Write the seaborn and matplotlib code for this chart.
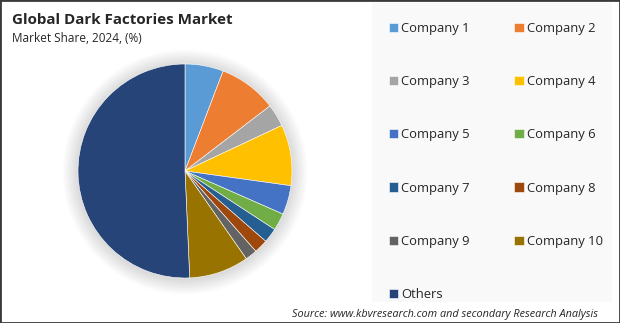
import matplotlib
matplotlib.use("Agg")
import matplotlib.pyplot as plt
from matplotlib.patches import Rectangle, Circle
import seaborn as sns

companies = ["Company 1", "Company 2", "Company 3", "Company 4", "Company 5",
             "Company 6", "Company 7", "Company 8", "Company 9", "Company 10", "Others"]
shares = [5.8, 8.8, 3.4, 9.2, 4.4, 2.6, 2.2, 2.1, 1.8, 9.0, 50.7]
colors = ["#5B9BD5", "#ED7D31", "#A5A5A5", "#FFC000", "#4472C4", "#70AD47",
          "#255E91", "#9E480E", "#636363", "#997300", "#264478"]

title = "Global Dark Factories Market"
subtitle = "Market Share, 2024, (%)"
source = "Source: www.kbvresearch.com and secondary Research Analysis"

sns.set_theme(style="white")
plt.rcParams['font.family'] = ['Open Sans', 'DejaVu Sans']

W, H = 620, 323
fig = plt.figure(figsize=(W / 100, H / 100), dpi=100)
fig.patch.set_facecolor("white")

# right panel background
fig.patches.append(Rectangle((372 / W, (H - 302) / H), (612 - 372) / W, (302 - 3) / H,
                             transform=fig.transFigure, facecolor="#f9f9f9",
                             edgecolor="none", zorder=0))
# outer border
fig.patches.append(Rectangle((0, 0), 1, 1, transform=fig.transFigure, facecolor="none",
                             edgecolor="#3a3a3a", linewidth=2.0, zorder=10))

cx, cy, r = 185, 171, 107
pad = 20
ax = fig.add_axes([(cx - r - pad) / W, (H - cy - r - pad) / H, (2 * r + 2 * pad) / W, (2 * r + 2 * pad) / H])

# soft shadow
for i in range(12):
    ax.add_patch(Circle((0.0, -0.01), 1.0 + 0.012 * (i + 1), facecolor="#000000",
                        alpha=0.01, edgecolor="none", zorder=0))

wedges, _ = ax.pie(shares, colors=colors, startangle=90, counterclock=False,
                   radius=1.0, wedgeprops=dict(edgecolor="white", linewidth=0.4),
                   frame=True)
ax.set_xlim(-1 - pad / r, 1 + pad / r)
ax.set_ylim(-1 - pad / r, 1 + pad / r)
ax.set_aspect("equal")
ax.axis("off")

fig.text(12 / W, 1 - 20 / H, title, fontsize=10.9, fontweight="bold", color="#262626",
         va="center", ha="left")
fig.text(12 / W, 1 - 38 / H, subtitle, fontsize=8.5, color="#262626", va="center", ha="left")
fig.text(598 / W, 1 - 315 / H, source, fontsize=7.8, style="italic", color="#262626",
         va="center", ha="right")

order = [0, 2, 4, 6, 8, 10, 1, 3, 5, 7, 9]
leg = fig.legend([wedges[i] for i in order], [companies[i] for i in order], ncol=2,
                 loc="upper left", bbox_to_anchor=(389 / W, 1 - 22 / H),
                 frameon=False, fontsize=9.4, handlelength=0.7, handleheight=0.7,
                 handletextpad=0.25, labelspacing=3.08, columnspacing=3.4,
                 borderaxespad=0, borderpad=0)
for t in leg.get_texts():
    t.set_color("#262626")

fig.savefig("out.png", dpi=100, facecolor="white")
